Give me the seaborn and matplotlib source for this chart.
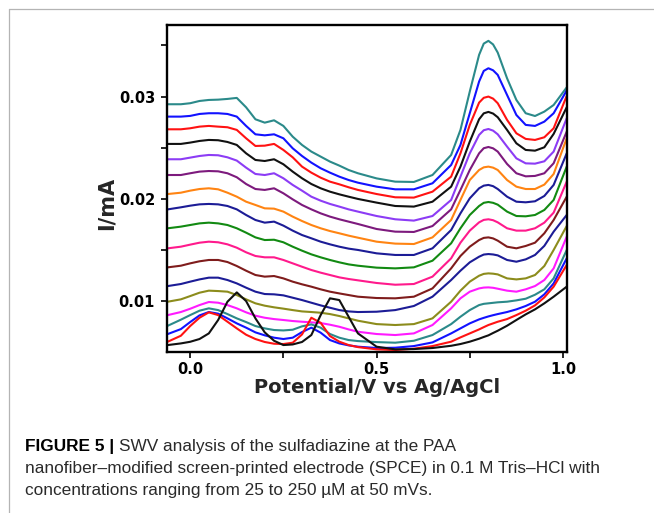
import matplotlib
matplotlib.use("Agg")
import matplotlib.pyplot as plt
from matplotlib import font_manager as fm
from matplotlib.lines import Line2D
import pandas as pd
import seaborn as sns

# ---------------- data ----------------
potential_V = [-0.06, -0.025, 0.0, 0.025, 0.05, 0.075, 0.1, 0.125, 0.15, 0.175,
               0.2, 0.225, 0.25, 0.275, 0.3, 0.325, 0.35, 0.375, 0.4, 0.425,
               0.45, 0.5, 0.55, 0.6, 0.65, 0.7, 0.725, 0.75, 0.775, 0.7875,
               0.8, 0.8125, 0.825, 0.85, 0.875, 0.9, 0.925, 0.95, 0.975, 1.01]

# currents in microampere (top curve first)
teal_1 = [29.25, 29.25, 29.35, 29.57, 29.67, 29.70, 29.77, 29.87, 28.95, 27.78, 27.45, 27.68, 27.13, 26.08, 25.27, 24.62, 24.13, 23.64, 23.25, 22.82, 22.5, 22.0, 21.68, 21.65, 22.33, 24.29, 26.74, 30.49,
          34.08, 35.18, 35.45, 35.1, 34.3, 31.79, 29.67, 28.37, 28.1, 28.53, 29.18, 30.9]
blue_1 = [28.04, 28.04, 28.11, 28.3, 28.37, 28.37, 28.3, 28.04, 27.13, 26.31, 26.21, 26.31, 25.92, 24.94, 24.19, 23.54, 22.99, 22.56, 22.17, 21.84, 21.58, 21.19, 20.93, 20.93, 21.52, 23.31, 25.27, 28.37,
          31.47, 32.51, 32.77, 32.57, 32.12, 30.16, 28.2, 27.23, 27.13, 27.55, 28.37, 30.6]
red_1 = [26.8, 26.8, 26.9, 27.06, 27.13, 27.06, 27.0, 26.74, 25.92, 25.17, 25.2, 25.37, 24.78, 24.06, 23.15, 22.56, 22.07, 21.68, 21.42, 21.13, 20.87, 20.47, 20.15, 20.12, 20.7, 22.17, 24.45, 27.23,
         29.41, 29.88, 30.0, 29.8, 29.35, 27.72, 26.41, 25.86, 25.76, 26.02, 26.9, 30.06]
black_1 = [25.37, 25.37, 25.5, 25.66, 25.76, 25.73, 25.56, 25.27, 24.45, 23.8, 23.7, 23.87, 23.38, 22.66, 22.01, 21.45, 21.03, 20.7, 20.44, 20.21, 19.99, 19.63, 19.3, 19.24, 19.72, 21.19, 23.15, 25.6,
           27.78, 28.36, 28.5, 28.34, 27.98, 26.74, 25.43, 24.78, 24.71, 25.04, 26.35, 28.95]
violet = [23.87, 23.87, 24.03, 24.19, 24.29, 24.26, 24.06, 23.74, 23.05, 22.43, 22.33, 22.5, 22.01, 21.36, 20.8, 20.21, 19.82, 19.5, 19.24, 18.97, 18.75, 18.32, 18.0, 17.87, 18.32, 19.89, 22.17, 24.45,
          26.25, 26.71, 26.83, 26.67, 26.31, 25.11, 23.96, 23.47, 23.44, 23.67, 24.62, 27.88]
purple = [22.33, 22.33, 22.5, 22.66, 22.72, 22.69, 22.5, 22.11, 21.45, 20.96, 20.87, 21.03, 20.54, 19.95, 19.4, 18.97, 18.58, 18.26, 18.0, 17.77, 17.54, 17.05, 16.79, 16.76, 17.34, 18.97, 20.87, 22.82,
          24.45, 24.95, 25.07, 24.94, 24.62, 23.41, 22.5, 22.2, 22.24, 22.5, 23.48, 26.57]
orange = [20.47, 20.6, 20.8, 20.96, 21.03, 20.93, 20.6, 20.21, 19.72, 19.4, 19.07, 19.04, 18.75, 18.26, 17.83, 17.44, 17.12, 16.85, 16.63, 16.4, 16.2, 15.81, 15.62, 15.58, 16.23, 17.93, 19.89, 21.84,
          22.82, 23.08, 23.15, 23.05, 22.82, 21.84, 21.19, 20.96, 20.96, 21.39, 22.43, 25.92]
navy_1 = [18.97, 19.17, 19.33, 19.46, 19.5, 19.46, 19.3, 18.97, 18.42, 17.93, 17.67, 17.77, 17.38, 16.89, 16.46, 16.14, 15.81, 15.55, 15.32, 15.13, 15.0, 14.67, 14.51, 14.51, 15.16, 16.95, 18.58, 20.05,
          21.03, 21.29, 21.36, 21.24, 20.96, 20.21, 19.72, 19.66, 19.76, 20.28, 21.36, 24.45]
green = [17.12, 17.28, 17.44, 17.6, 17.67, 17.6, 17.44, 17.12, 16.69, 16.23, 15.97, 16.0, 15.75, 15.32, 14.93, 14.57, 14.28, 14.02, 13.79, 13.59, 13.46, 13.27, 13.2, 13.3, 13.95, 15.65, 17.12, 18.42,
         19.3, 19.61, 19.69, 19.61, 19.43, 18.75, 18.32, 18.29, 18.42, 18.91, 19.89, 23.15]
pink = [15.16, 15.32, 15.52, 15.71, 15.81, 15.75, 15.55, 15.22, 14.77, 14.41, 14.28, 14.28, 14.02, 13.69, 13.36, 13.04, 12.78, 12.55, 12.32, 12.16, 12.03, 11.77, 11.6, 11.67, 12.39, 14.18, 15.71, 16.89,
        17.7, 17.94, 18.0, 17.91, 17.7, 17.12, 16.89, 16.89, 17.12, 17.67, 18.65, 21.68]
maroon = [13.3, 13.46, 13.69, 13.89, 14.02, 14.02, 13.82, 13.43, 12.97, 12.55, 12.39, 12.45, 12.22, 11.9, 11.64, 11.41, 11.15, 10.92, 10.75, 10.59, 10.43, 10.3, 10.27, 10.43, 11.24, 13.2, 14.41, 15.32,
          15.97, 16.18, 16.23, 16.13, 15.91, 15.32, 15.16, 15.39, 15.71, 16.63, 17.93, 20.21]
navy_2 = [11.47, 11.67, 11.9, 12.12, 12.29, 12.29, 12.06, 11.73, 11.31, 10.92, 10.69, 10.66, 10.56, 10.33, 10.1, 9.84, 9.58, 9.35, 9.12, 8.99, 8.93, 8.96, 9.12, 9.52, 10.43, 12.06, 12.97, 13.79,
          14.34, 14.55, 14.6, 14.56, 14.47, 14.02, 13.85, 14.08, 14.51, 15.4, 16.79, 18.42]
olive = [9.94, 10.17, 10.49, 10.82, 11.02, 10.98, 10.92, 10.59, 10.17, 9.78, 9.55, 9.39, 9.26, 9.12, 8.99, 8.93, 8.86, 8.73, 8.54, 8.31, 8.08, 7.75, 7.66, 7.75, 8.31, 9.94, 11.02, 11.9,
         12.48, 12.66, 12.71, 12.68, 12.61, 12.22, 12.12, 12.22, 12.55, 13.43, 15.0, 17.34]
magenta = [8.63, 8.93, 9.25, 9.61, 9.91, 9.84, 9.61, 9.29, 8.9, 8.57, 8.37, 8.24, 8.15, 8.05, 7.98, 7.92, 7.85, 7.69, 7.49, 7.23, 7.0, 6.78, 6.68, 6.84, 7.66, 9.29, 10.27, 10.92,
           11.24, 11.32, 11.34, 11.3, 11.21, 11.02, 10.92, 11.15, 11.47, 12.06, 13.2, 16.3]
teal_2 = [7.59, 8.18, 8.63, 9.06, 9.29, 9.12, 8.73, 8.31, 7.95, 7.56, 7.33, 7.17, 7.13, 7.2, 7.53, 7.72, 7.4, 6.78, 6.42, 6.19, 6.09, 5.99, 5.93, 6.12, 6.68, 7.75, 8.47, 9.12,
          9.61, 9.73, 9.78, 9.83, 9.88, 9.94, 10.07, 10.23, 10.62, 11.15, 12.22, 14.99]
blue_2 = [6.78, 7.26, 7.95, 8.6, 8.93, 8.77, 8.31, 7.82, 7.4, 6.94, 6.65, 6.42, 6.29, 6.42, 6.97, 7.4, 6.91, 6.19, 5.86, 5.67, 5.54, 5.41, 5.44, 5.6, 5.96, 6.84, 7.33, 7.82,
          8.21, 8.36, 8.5, 8.62, 8.73, 8.93, 9.19, 9.52, 9.94, 10.66, 11.73, 14.18]
red_2 = [6.03, 6.61, 7.56, 8.37, 8.9, 8.63, 7.98, 7.33, 6.71, 6.29, 6.0, 5.83, 5.8, 5.93, 6.74, 8.37, 7.88, 6.58, 6.03, 5.7, 5.5, 5.28, 5.21, 5.34, 5.6, 6.03, 6.45, 6.84,
         7.23, 7.45, 7.66, 7.82, 7.98, 8.24, 8.63, 9.06, 9.58, 10.36, 11.41, 13.53]
black_2 = [5.7, 5.86, 6.02, 6.29, 6.84, 8.15, 9.94, 10.85, 10.0, 8.31, 6.94, 6.12, 5.7, 5.76, 6.0, 6.68, 8.63, 10.27, 10.1, 8.47, 6.84, 5.54, 5.28, 5.31, 5.41, 5.63, 5.8, 6.03,
           6.32, 6.49, 6.65, 6.88, 7.1, 7.59, 8.15, 8.7, 9.19, 9.78, 10.43, 11.41]

curve_names = ["teal_1", "blue_1", "red_1", "black_1", "violet", "purple", "orange",
               "navy_1", "green", "pink", "maroon", "navy_2", "olive", "magenta",
               "teal_2", "blue_2", "red_2", "black_2"]
curve_values = [teal_1, blue_1, red_1, black_1, violet, purple, orange, navy_1, green,
                pink, maroon, navy_2, olive, magenta, teal_2, blue_2, red_2, black_2]
curve_colors = ["#2b8a8a", "#1212ff", "#ff1212", "#111111", "#8c3cf5", "#7d1a7d", "#ff8412",
                "#1c1c96", "#128a12", "#ff1a8c", "#7f1c1c", "#1c1c96", "#8c8c1c", "#ff1aff",
                "#2b8a8a", "#1212ff", "#ff1212", "#111111"]

x_ticks = [0.0, 0.5, 1.0]
x_tick_labels = ["0.0", "0.5", "1.0"]
y_ticks = [0.01, 0.02, 0.03]
y_tick_labels = ["0.01", "0.02", "0.03"]

caption_bold = "FIGURE 5 |"
caption_line1 = "SWV analysis of the sulfadiazine at the PAA"
caption_line2 = "nanofiber\u2013modified screen-printed electrode (SPCE) in 0.1 M Tris\u2013HCl with"
caption_line3 = "concentrations ranging from 25 to 250 \u00b5M at 50 mVs."

# ---------------- build table ----------------
rows = []
for name, vals in zip(curve_names, curve_values):
    assert len(vals) == len(potential_V), name
    for v, c in zip(potential_V, vals):
        rows.append({"curve": name, "potential": v, "current": c / 1000.0})
df = pd.DataFrame(rows)

sns.set_style("ticks")
plt.rcParams["font.family"] = ["DejaVu Sans"]

W, H = 654, 513
fig = plt.figure(figsize=(W / 100, H / 100), dpi=100)
fig.patch.set_facecolor("white")

ax_l, ax_r, ax_t, ax_b = 166.7, 566.7, 25.0, 351.7
ax = fig.add_axes([ax_l / W, 1 - ax_b / H, (ax_r - ax_l) / W, (ax_b - ax_t) / H])

sns.lineplot(data=df, x="potential", y="current", hue="curve", hue_order=curve_names,
             palette=dict(zip(curve_names, curve_colors)), estimator=None,
             linewidth=1.5, legend=False, ax=ax)
for ln in ax.lines:
    ln.set_solid_joinstyle("round")

ax.set_xlim(-0.063, 1.01)
ax.set_ylim(0.00505, 0.0370)

for sp in ax.spines.values():
    sp.set_visible(True)
    sp.set_linewidth(1.7)
    sp.set_color("black")

ax.set_xticks(x_ticks)
ax.set_xticklabels(x_tick_labels, fontsize=10.5, fontweight="bold")
ax.set_xticks([0.25, 0.75], minor=True)
ax.set_yticks(y_ticks)
ax.set_yticklabels(y_tick_labels, fontsize=10.5, fontweight="bold")
ax.set_yticks([0.015, 0.025, 0.035], minor=True)
ax.tick_params(which="both", direction="out", length=4, width=1.2, colors="black")
ax.tick_params(axis="x", which="major", pad=3.4)
ax.tick_params(axis="y", which="major", pad=4.4)
ax.grid(False)

ax.set_xlabel("Potential/V vs Ag/AgCl", fontsize=14, fontweight="bold")
ax.xaxis.set_label_coords(0.526, -0.082)
ax.set_ylabel("I/mA", fontsize=15, fontweight="bold")
ax.yaxis.set_label_coords(-0.125, 0.455)

# border of the figure panel
bx, by = 9 / W, 1 - 9 / H
fig.add_artist(Line2D([bx, 1.0], [by, by], transform=fig.transFigure, color="#b4b4b4", lw=0.9))
fig.add_artist(Line2D([bx, bx], [0.0, by], transform=fig.transFigure, color="#b4b4b4", lw=0.9))

# caption
names = {f.name for f in fm.fontManager.ttflist}
cap_font = "Liberation Sans Narrow" if "Liberation Sans Narrow" in names else (
    "Liberation Sans" if "Liberation Sans" in names else "DejaVu Sans")

fig.canvas.draw()
renderer = fig.canvas.get_renderer()

x0 = 25 / W
base_y = [1 - 451.5 / H, 1 - 473.5 / H, 1 - 495.5 / H]
probe = fig.text(x0, base_y[1], caption_line2, fontsize=11, family=cap_font,
                 color="#2a2a2a", va="baseline", ha="left")
w2 = probe.get_window_extent(renderer).width
fs = 11 * (598 - 25) / w2
probe.set_fontsize(fs)

tb = fig.text(x0, base_y[0], caption_bold, fontsize=fs, family=cap_font, fontweight="bold",
              color="black", va="baseline", ha="left")
fig.canvas.draw()
bb = tb.get_window_extent(renderer)
fig.text(bb.x1 / W + 0.3 * fs * 100 / 72 / W, base_y[0], caption_line1, fontsize=fs,
         family=cap_font, color="#2a2a2a", va="baseline", ha="left")
fig.text(x0, base_y[2], caption_line3, fontsize=fs, family=cap_font, color="#2a2a2a",
         va="baseline", ha="left")

fig.savefig("out.png", dpi=100, facecolor="white")
